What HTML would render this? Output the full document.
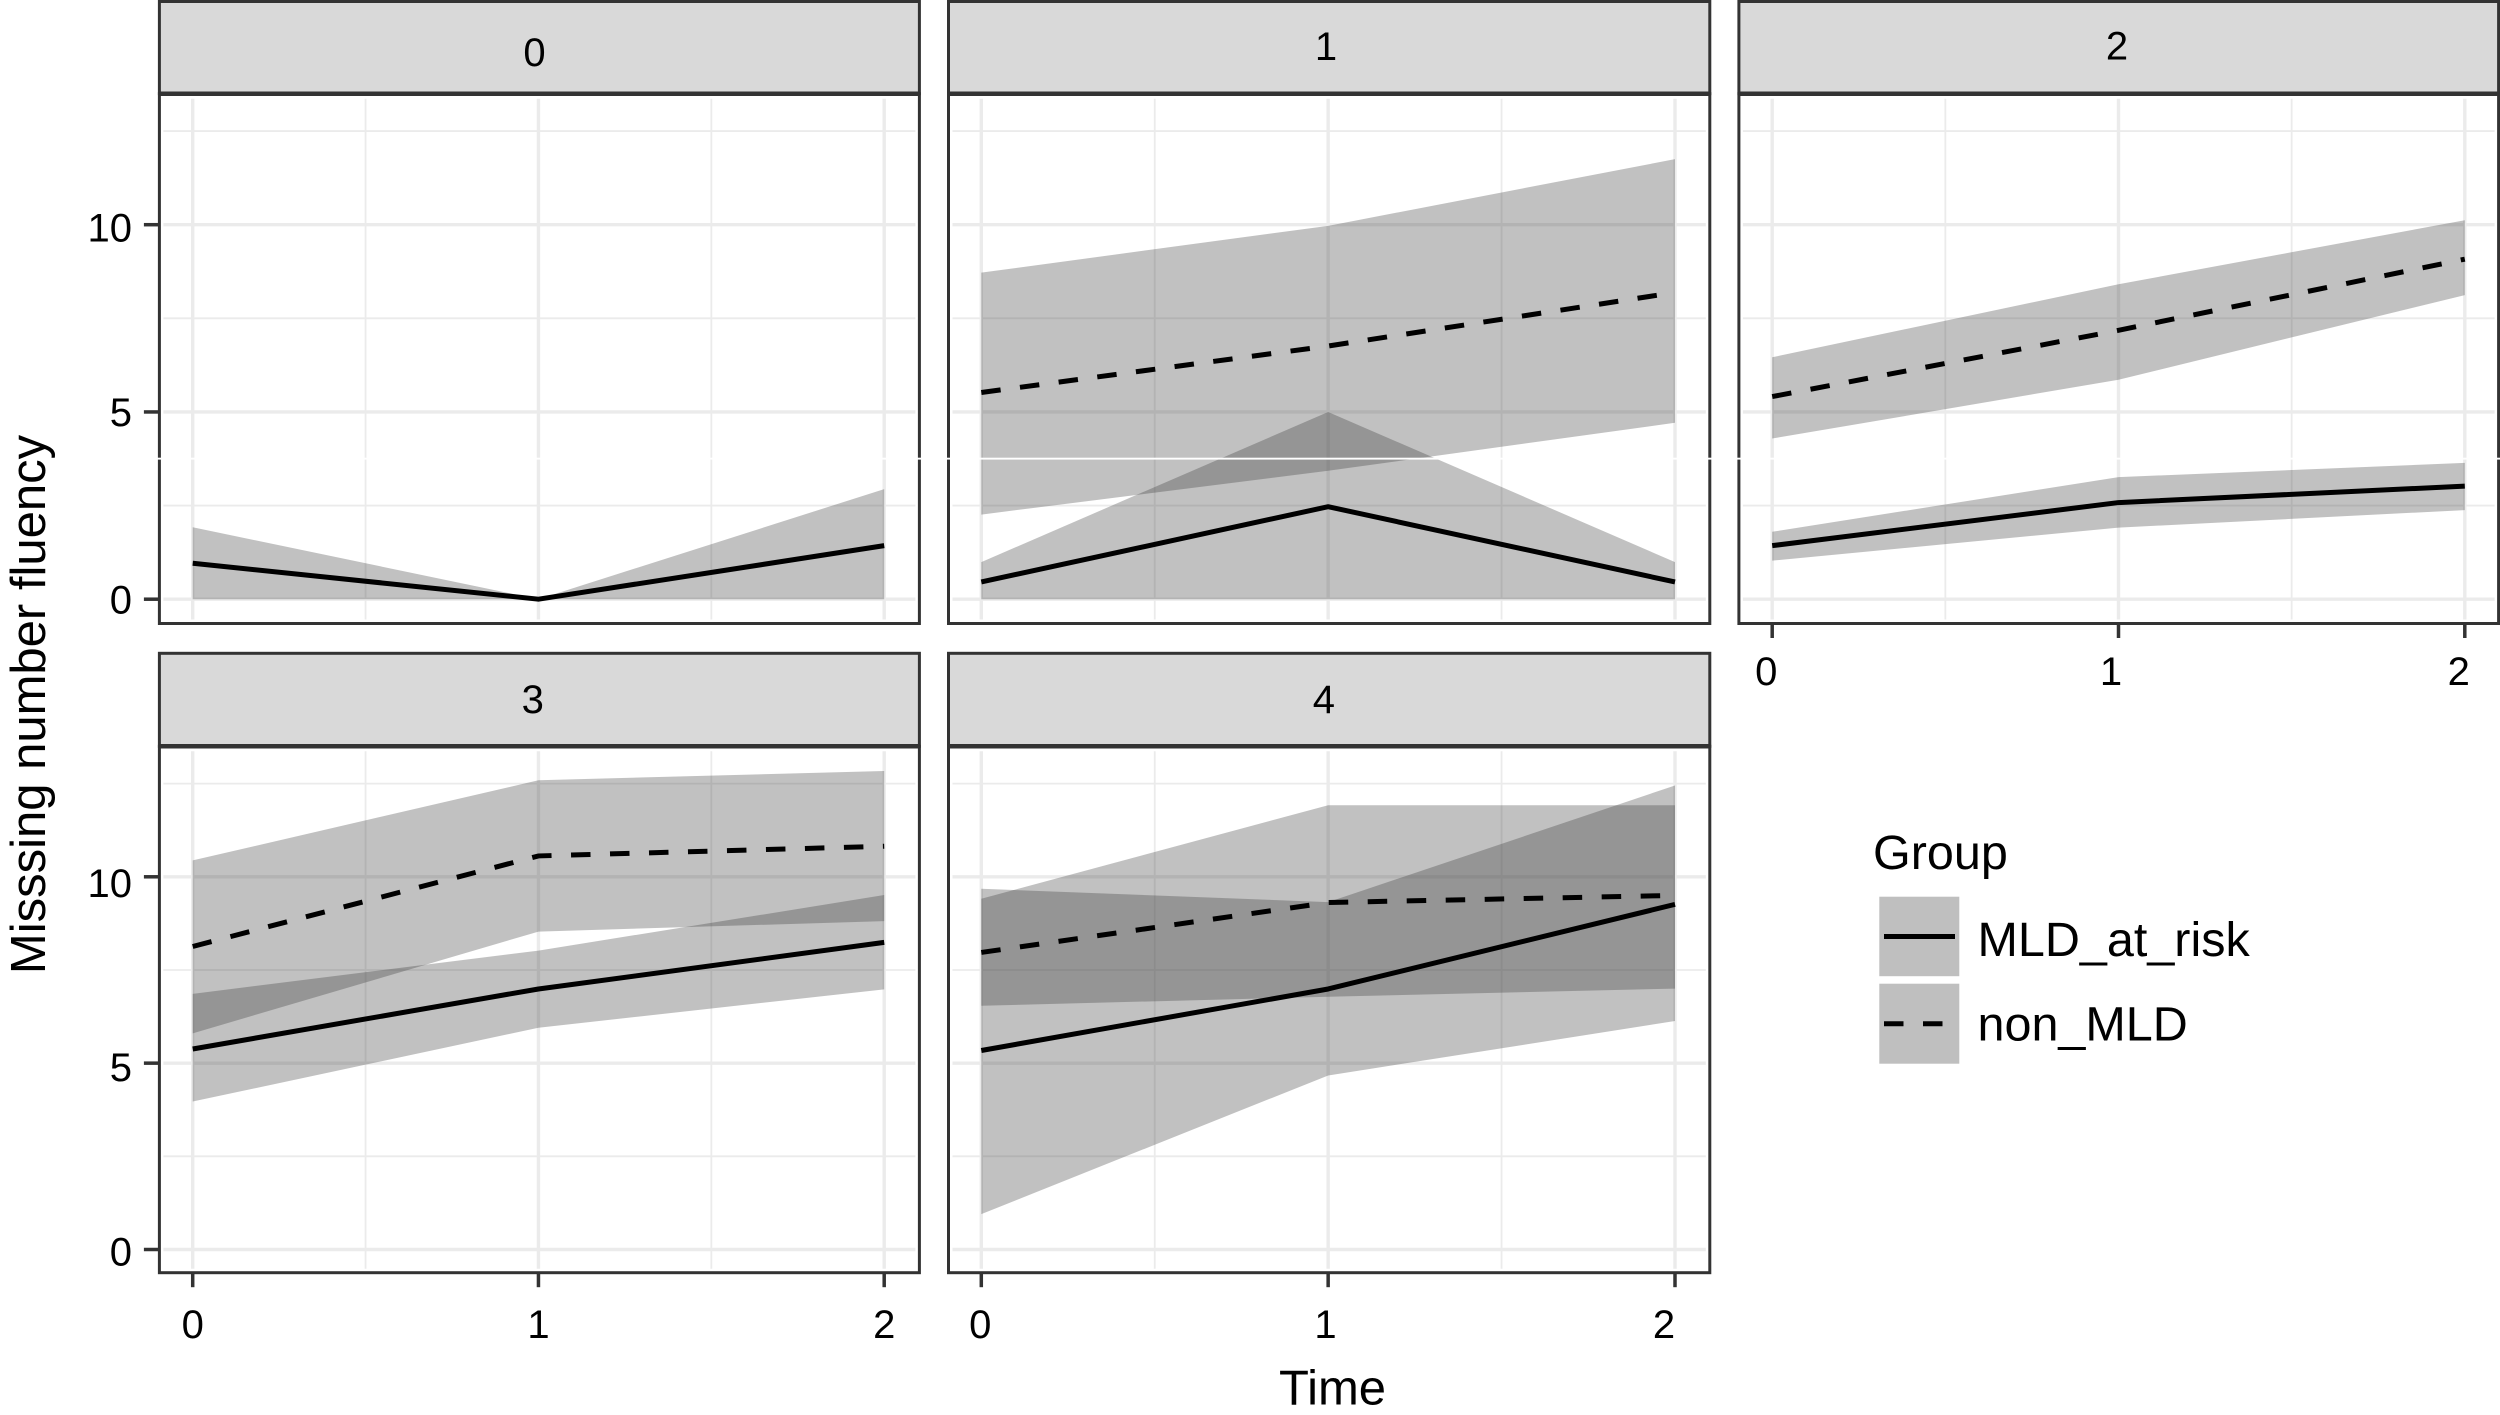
<!DOCTYPE html>
<html lang="en">
<head>
<meta charset="utf-8">
<title>Missing number fluency by time and group</title>
<style>
html,body{margin:0;padding:0;background:#fff;}
svg{display:block;}
text{font-family:"Liberation Sans",sans-serif;fill:#000;}
</style>
</head>
<body>
<svg id="chart" xmlns="http://www.w3.org/2000/svg" width="2500" height="1415" viewBox="0 0 2500 1415">
  <rect x="0" y="0" width="2500" height="1415" fill="#ffffff"/>
  <g id="panels"></g>
  <text x="1332.5" y="1404.5" font-size="49" text-anchor="middle">Time</text>
  <text x="45" y="704.5" font-size="49" text-anchor="middle" transform="rotate(-90 45 704.5)">Misssing number fluency</text>
  <g>
    <text x="1873" y="869" font-size="48.5">Group</text>
    <g>
      <rect x="1879.3" y="896.7" width="80" height="79.5" fill="#bfbfbf"/>
      <line x1="1884" y1="936.5" x2="1955" y2="936.5" stroke="#000" stroke-width="5"/>
      <text x="1977.5" y="956" font-size="48.5">MLD_at_risk</text>
    </g>
    <g>
      <rect x="1879.3" y="983.7" width="80" height="80" fill="#bfbfbf"/>
      <line x1="1884" y1="1023.7" x2="1955" y2="1023.7" stroke="#000" stroke-width="5" stroke-dasharray="19.5 19.5"/>
      <text x="1977.5" y="1040.5" font-size="48.5">non_MLD</text>
    </g>
  </g>
  <rect x="150" y="457.7" width="2350" height="1.9" fill="#ffffff"/>
</svg>
<script>
// ----- chart data -----
const facetLabels = ['0', '1', '2', '3', '4'];
const timePoints = [0, 1, 2];
const xTickValues = [0, 1, 2];
const xMinorValues = [0.5, 1.5];
const yTickValues = [0, 5, 10];
const yMinorValues = [2.5, 7.5, 12.5];

const mldMean = [
  [0.96, 0, 1.43],
  [0.46, 2.47, 0.46],
  [1.43, 2.58, 3.02],
  [5.38, 6.99, 8.24],
  [5.34, 6.99, 9.26]
];
const mldUpper = [
  [1.92, 0, 2.94],
  [0.99, 5.0, 0.99],
  [1.80, 3.26, 3.64],
  [6.86, 8.02, 9.51],
  [9.41, 11.92, 11.92]
];
const mldLower = [
  [0, 0, 0],
  [0, 0, 0],
  [1.03, 1.91, 2.38],
  [3.97, 5.95, 6.98],
  [0.95, 4.67, 6.13]
];
const nonMean = [
  null,
  [5.52, 6.76, 8.19],
  [5.41, 7.18, 9.08],
  [8.13, 10.56, 10.82],
  [7.97, 9.31, 9.50]
];
const nonUpper = [
  null,
  [8.72, 9.97, 11.75],
  [6.46, 8.41, 10.12],
  [10.44, 12.59, 12.84],
  [9.68, 9.32, 12.45]
];
const nonLower = [
  null,
  [2.26, 3.43, 4.71],
  [4.29, 5.86, 8.12],
  [5.80, 8.53, 8.81],
  [6.54, 6.78, 7.00]
];

// ----- layout of the facet grid -----
const topRow = { stripTop: 1.5, stripBottom: 93.7, bottom: 623.5, y0: 599.2, y10: 224.7 };
const bottomRow = { stripTop: 653.3, stripBottom: 746.3, bottom: 1272.7, y0: 1249.5, y10: 876.8 };
const colA = { left: 159.4, right: 919.4, x0: 192.7, x2: 884.2 };
const colB = { left: 948.5, right: 1709.8, x0: 981.3, x2: 1675 };
const colC = { left: 1738.9, right: 2498.6, x0: 1772.2, x2: 2464.8 };
const panelLayout = [
  { col: colA, row: topRow, stripX: 534.5, stripBase: 66, xAxis: false, yAxis: true, yNudge: [14.5, 14, 17] },
  { col: colB, row: topRow, stripX: 1326, stripBase: 60, xAxis: false, yAxis: false },
  { col: colC, row: topRow, stripX: 2117, stripBase: 59.5, xAxis: true, yAxis: false, labelBase: 685, xNudge: [-6, -7.5, -6] },
  { col: colA, row: bottomRow, stripX: 532.7, stripBase: 713, xAxis: true, yAxis: true, labelBase: 1338, xNudge: [0, 0, 0], yNudge: [16, 18, 20] },
  { col: colB, row: bottomRow, stripX: 1323.9, stripBase: 713, xAxis: true, yAxis: false, labelBase: 1338, xNudge: [-1, -2.7, -11] }
];

const SVG_NS = 'http://www.w3.org/2000/svg';
const panelsRoot = document.getElementById('panels');

function make(parent, tag, props) {
  const el = document.createElementNS(SVG_NS, tag);
  Object.keys(props).forEach(function (k) { el.setAttribute(k, props[k]); });
  parent.appendChild(el);
  return el;
}

function ribbonPath(upper, lower, xs, ys) {
  const top = timePoints.map(function (t, i) { return xs(t) + ',' + ys(upper[i]); });
  const bottom = timePoints.map(function (t, i) { return xs(t) + ',' + ys(lower[i]); }).reverse();
  return top.concat(bottom).join(' ');
}

function linePath(values, xs, ys) {
  return timePoints.map(function (t, i) { return xs(t) + ',' + ys(values[i]); }).join(' ');
}

facetLabels.forEach(function (label, p) {
  const lay = panelLayout[p];
  const col = lay.col;
  const row = lay.row;
  const xs = function (v) { return col.x0 + (col.x2 - col.x0) * v / 2; };
  const ys = function (v) { return row.y0 + (row.y10 - row.y0) * v / 10; };

  const g = make(panelsRoot, 'g', {});
  
  

  // strip
  const strip = make(g, 'rect', { x: col.left, y: row.stripTop, width: col.right - col.left, height: row.stripBottom - row.stripTop, fill: '#d9d9d9', stroke: '#333333', 'stroke-width': 3 });
  
  

  const stripText = make(g, 'text', { x: lay.stripX, y: lay.stripBase, 'font-size': 40, 'text-anchor': 'middle' });
  stripText.textContent = label;
  
  

  // grid
  const gridLeft = col.left + 4;
  const gridRight = col.right - 4;
  const gridTop = row.stripBottom + 5;
  const gridBottom = row.bottom - 4;

  yMinorValues.forEach(function (v) {
    const ln = make(g, 'line', { x1: gridLeft, x2: gridRight, y1: ys(v), y2: ys(v), stroke: '#ebebeb', 'stroke-width': 1.8 });
    
    
  });
  xMinorValues.forEach(function (v) {
    const ln = make(g, 'line', { x1: xs(v), x2: xs(v), y1: gridTop, y2: gridBottom, stroke: '#ebebeb', 'stroke-width': 1.8 });
    
    
  });
  yTickValues.forEach(function (v) {
    const ln = make(g, 'line', { x1: gridLeft, x2: gridRight, y1: ys(v), y2: ys(v), stroke: '#ebebeb', 'stroke-width': 3.4 });
    
    
  });
  xTickValues.forEach(function (v) {
    const ln = make(g, 'line', { x1: xs(v), x2: xs(v), y1: gridTop, y2: gridBottom, stroke: '#ebebeb', 'stroke-width': 3.4 });
    
    
  });

  // ribbons
  const mldBand = make(g, 'polygon', { points: ribbonPath(mldUpper[p], mldLower[p], xs, ys), fill: '#333333', 'fill-opacity': 0.3 });
  
  

  if (nonMean[p]) {
    const nonBand = make(g, 'polygon', { points: ribbonPath(nonUpper[p], nonLower[p], xs, ys), fill: '#333333', 'fill-opacity': 0.3 });
    
    
  }

  // lines
  const mldLine = make(g, 'polyline', { points: linePath(mldMean[p], xs, ys), fill: 'none', stroke: '#000000', 'stroke-width': 5, 'stroke-linejoin': 'round' });
  
  

  if (nonMean[p]) {
    const nonLine = make(g, 'polyline', { points: linePath(nonMean[p], xs, ys), fill: 'none', stroke: '#000000', 'stroke-width': 5, 'stroke-dasharray': '19.5 19.5' });
    
    
  }

  // panel border + strip divider
  const border = make(g, 'rect', { x: col.left, y: row.stripBottom, width: col.right - col.left, height: row.bottom - row.stripBottom, fill: 'none', stroke: '#333333', 'stroke-width': 3 });
  
  

  const divider = make(g, 'line', { x1: col.left, x2: col.right, y1: row.stripBottom, y2: row.stripBottom, stroke: '#333333', 'stroke-width': 4.5 });
  
  

  // x axis
  if (lay.xAxis) {
    xTickValues.forEach(function (v, i) {
      const tick = make(g, 'line', { x1: xs(v), x2: xs(v), y1: row.bottom, y2: row.bottom + 14.5, stroke: '#333333', 'stroke-width': 3.5 });
      
      
      const tx = make(g, 'text', { x: xs(v) + lay.xNudge[i], y: lay.labelBase, 'font-size': 40, 'text-anchor': 'middle' });
      tx.textContent = String(v);
      
      
    });
  }

  // y axis
  if (lay.yAxis) {
    yTickValues.forEach(function (v, i) {
      const tick = make(g, 'line', { x1: col.left - 15.5, x2: col.left, y1: ys(v), y2: ys(v), stroke: '#333333', 'stroke-width': 3.5 });
      
      
      const ty = make(g, 'text', { x: 132, y: ys(v) + lay.yNudge[i], 'font-size': 40, 'text-anchor': 'end' });
      ty.textContent = String(v);
      
      
    });
  }
});
</script>
</body>
</html>
